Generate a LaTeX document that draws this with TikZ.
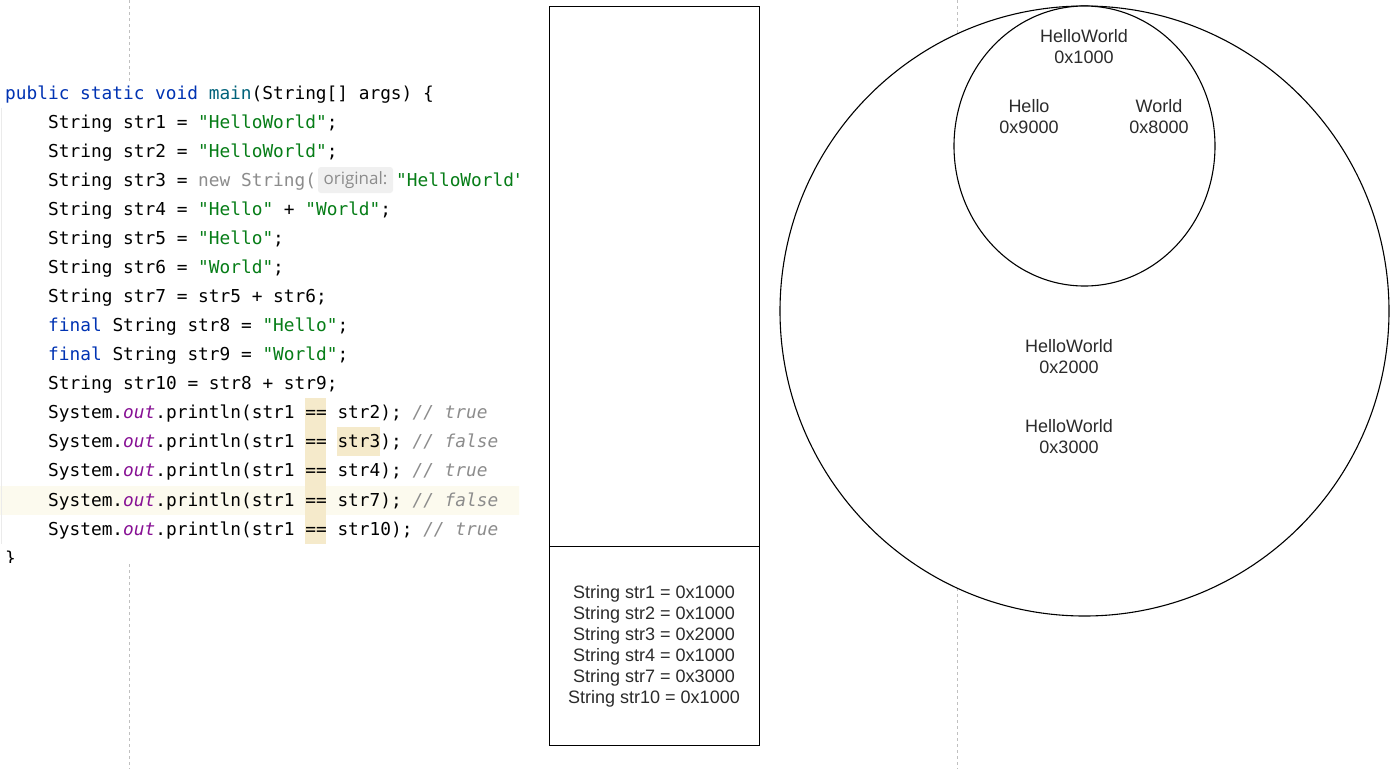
\documentclass[tikz,border=0pt]{standalone}
\usepackage{fontspec}
\setmainfont{Liberation Sans}
\setmonofont{DejaVu Sans Mono}
\newfontfamily\hintfont{Open Sans}
\definecolor{kw}{HTML}{0033B3}
\definecolor{fn}{HTML}{00627A}
\definecolor{st}{HTML}{067D17}
\definecolor{fl}{HTML}{871094}
\definecolor{cm}{HTML}{8C8C8C}
\definecolor{tx}{HTML}{000000}
\definecolor{hl}{HTML}{F5EACB}
\definecolor{cur}{HTML}{FCFAEE}
\definecolor{hintbg}{HTML}{F0F0F0}
\definecolor{gutter}{HTML}{EBEBEB}
\definecolor{dash}{HTML}{C0C0C0}
\definecolor{lbltext}{HTML}{2B2B2B}
\newcommand\Kw[1]{\textcolor{kw}{#1}}
\newcommand\Fn[1]{\textcolor{fn}{#1}}
\newcommand\Str[1]{\textcolor{st}{#1}}
\newcommand\Fld[1]{\textcolor{fl}{\itshape #1}}
\newcommand\Cm[1]{\textcolor{cm}{\itshape #1}}
\tikzset{
  codeline/.style={anchor=base west, inner sep=0pt, font=\fontsize{17.8}{20}\ttfamily, text=tx},
  lbl/.style={align=center, inner sep=0pt, font=\fontsize{18}{21}\selectfont, text=lbltext},
  guide/.style={draw=dash, line width=1pt, dash pattern=on 3pt off 3pt},
  shape line/.style={draw=black, line width=1.1pt}
}
\begin{document}
\begin{tikzpicture}[x=1pt,y=-1pt]
\useasboundingbox (0,0) rectangle (1395,769);
\fill[white] (0,0) rectangle (1395,769);
% guide lines
\draw[guide] (129,0) -- (129,769);
\draw[guide] (957,0) -- (957,769);
% code area background
\fill[white] (0,83) rectangle (521,562);
\begin{scope}
\clip (0,83) rectangle (519,562);
\fill[cur] (0,485.5) rectangle (521,514.5);
\fill[hl] (304.8,398.3) rectangle (326.2,543.5);
\fill[hl] (336.9,427.4) rectangle (379.8,456.4);
\draw[gutter, line width=1pt] (1.5,107.5) -- (1.5,543.5);
\node[codeline] (l0) at (5,99) {\Kw{public static void} \Fn{main}(String[] args) \{};
\node[codeline] (l1) at (48,128.1) {String str1 = \Str{"HelloWorld"};};
\node[codeline] (l2) at (48,157.1) {String str2 = \Str{"HelloWorld"};};
\node[codeline] (l3) at (48,186.2) {String str3 = \textcolor{cm}{new String(}};
\node[fill=hintbg, rounded corners=3pt, minimum width=75pt, minimum height=26pt, inner sep=0pt, text=cm, font={\fontsize{17}{20}\hintfont}] (hint) at (355.5,180) {original:};
\node[codeline] (l3b) at (396,186.2) {\Str{"HelloWorld"});};
\node[codeline] (l4) at (48,215.3) {String str4 = \Str{"Hello"} + \Str{"World"};};
\node[codeline] (l5) at (48,244.3) {String str5 = \Str{"Hello"};};
\node[codeline] (l6) at (48,273.4) {String str6 = \Str{"World"};};
\node[codeline] (l7) at (48,302.5) {String str7 = str5 + str6;};
\node[codeline] (l8) at (48,331.6) {\Kw{final} String str8 = \Str{"Hello"};};
\node[codeline] (l9) at (48,360.6) {\Kw{final} String str9 = \Str{"World"};};
\node[codeline] (l10) at (48,389.7) {String str10 = str8 + str9;};
\node[codeline] (l11) at (48,418.8) {System.\Fld{out}.println(str1 == str2); \Cm{// true}};
\node[codeline] (l12) at (48,447.8) {System.\Fld{out}.println(str1 == str3); \Cm{// false}};
\node[codeline] (l13) at (48,476.9) {System.\Fld{out}.println(str1 == str4); \Cm{// true}};
\node[codeline] (l14) at (48,506.0) {System.\Fld{out}.println(str1 == str7); \Cm{// false}};
\node[codeline] (l15) at (48,535.0) {System.\Fld{out}.println(str1 == str10); \Cm{// true}};
\node[codeline] (l16) at (5,564) {\}};
\end{scope}
% stack box
\draw[shape line] (549.5,6.5) rectangle (759.5,745.5);
\draw[shape line] (549.5,546.5) -- (759.5,546.5);
\node[lbl] (stack) at (654,646.5) {String str1 = 0x1000\\String str2 = 0x1000\\String str3 = 0x2000\\String str4 = 0x1000\\String str7 = 0x3000\\String str10 = 0x1000};
% heap circles
\draw[shape line, fill=white] (1084.5,311) ellipse [x radius=304.5, y radius=305];
\draw[shape line, fill=white] (1084.5,146) ellipse [x radius=130.5, y radius=140];
\node[lbl] (hw1) at (1084,46.5) {HelloWorld\\0x1000};
\node[lbl] (hello) at (1029,116.5) {Hello\\0x9000};
\node[lbl] (world) at (1159,116.5) {World\\0x8000};
\node[lbl] (hw2) at (1069,356.5) {HelloWorld\\0x2000};
\node[lbl] (hw3) at (1069,436.5) {HelloWorld\\0x3000};
\end{tikzpicture}
\end{document}
